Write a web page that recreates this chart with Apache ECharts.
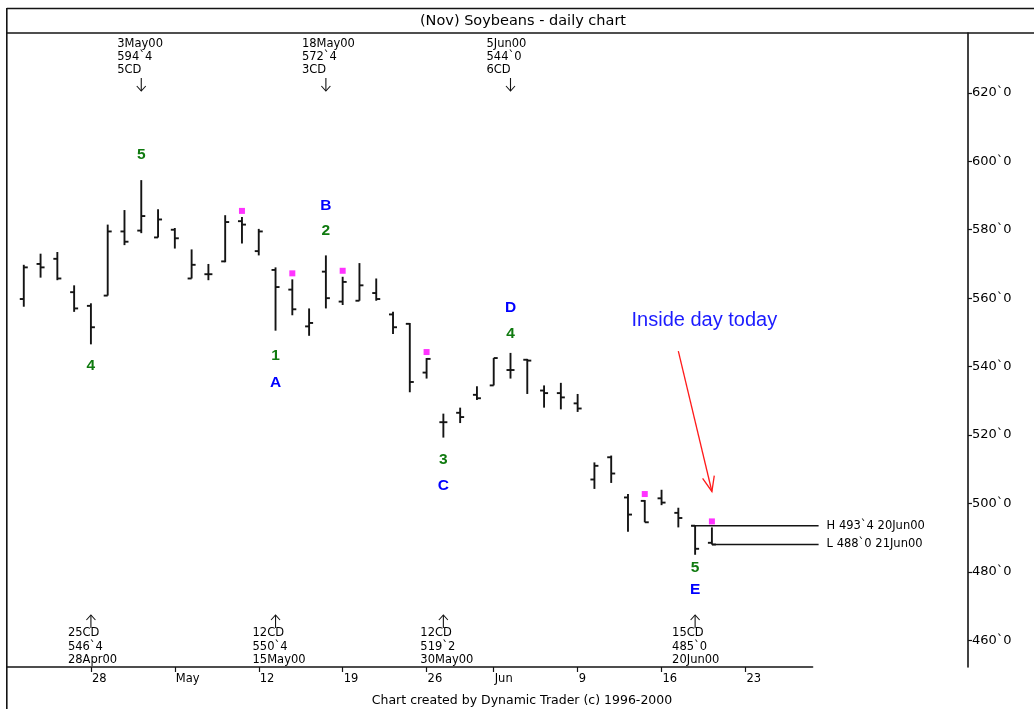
<!DOCTYPE html>
<html>
<head>
<meta charset="utf-8">
<script src="https://cdn.jsdelivr.net/npm/echarts@6/dist/echarts.min.js"></script>
<style>html,body{margin:0;padding:0;background:#fff}#chart{width:1034px;height:709px}</style>
</head>
<body>
<div id="chart"></div>
<script>
// ---------------- DATA ----------------
const chartTitle = '(Nov) Soybeans - daily chart';
const footerText = 'Chart created by Dynamic Trader (c) 1996-2000';
const padDay = '21Apr';
const dates = ['24Apr','25Apr','26Apr','27Apr','28Apr','1May','2May','3May','4May','5May',
  '8May','9May','10May','11May','12May','15May','16May','17May','18May','19May',
  '22May','23May','24May','25May','26May','30May','31May','1Jun','2Jun',
  '5Jun','6Jun','7Jun','8Jun','9Jun','12Jun','13Jun','14Jun','15Jun','16Jun',
  '19Jun','20Jun','21Jun'];
const futureDays = ['22Jun','23Jun','26Jun','27Jun','28Jun','29Jun'];
const opens  = [559.75,570,571.5,561.75,557.75,560.75,579.5,579.75,577.75,580,
  565.75,567,570.75,582.5,573.75,568.25,562.5,551.75,567.75,559,
  559.25,561.5,555.25,552.5,538.25,523.75,526.5,531.75,534.5,
  539,542,533,532.25,529.25,507,513.5,501.75,500.75,501.5,
  497.25,493.5,488.5];
const highs  = [569.75,573,573.5,563.75,558.5,581.5,585.75,594.5,586,580.5,
  574.25,570,584.25,583.75,580.25,569,565.5,557,572.5,566.25,
  570.25,565.75,556,552.75,542.5,526.25,528,534.25,542.5,
  544,542.25,534.5,535.25,532,512,514,502.75,501,504,
  498.75,493.5,493];
const lows   = [557.5,566,565.25,556,546.5,560.75,575.5,579,577.75,574.5,
  565.75,565.25,570.5,576,572.5,550.5,555,549,557,558,
  559.25,559.25,549.5,532.5,536.5,519.25,523.5,530.25,534.5,
  536.5,532,528,527.5,526.75,504.25,506,491.75,494.5,499.5,
  493,485,488];
const closes = [569,569,565.75,557,551.5,579.5,576.5,584,583,577.5,
  569.75,567,582.25,581.5,579.5,563.25,556.75,552.75,560,564.75,
  563.75,559.75,551.5,535.5,542.25,523.75,525.25,530.75,542.5,
  539,541.75,532.25,531,527.75,511,508.75,496.75,494.5,500.25,
  495.75,486.75,488];

const xTickDates  = ['28Apr','5May','12May','19May','26May','2Jun','9Jun','16Jun','23Jun'];
const xTickLabels = ['28','May','12','19','26','Jun','9','16','23'];
const yTickValues = [460,480,500,520,540,560,580,600,620];
const yTickLabels = ['460`0','480`0','500`0','520`0','540`0','560`0','580`0','600`0','620`0'];

const markerDates = ['11May','16May','19May','26May','15Jun','21Jun'];

const waveDates = ['28Apr','3May','15May','15May','18May','18May','30May','30May','5Jun','5Jun','20Jun','20Jun'];
const waveTexts = ['4','5','1','A','2','B','3','C','4','D','5','E'];
const waveSides = ['below','above','below','below','above','above','below','below','above','above','below','below'];

const topNoteDates  = ['3May','18May','5Jun'];
const topNoteDays   = ['3May00','18May00','5Jun00'];
const topNotePrices = ['594`4','572`4','544`0'];
const topNoteCounts = ['5CD','3CD','6CD'];

const bottomNoteDates  = ['28Apr','15May','30May','20Jun'];
const bottomNoteCounts = ['25CD','12CD','12CD','15CD'];
const bottomNotePrices = ['546`4','550`4','519`2','485`0'];
const bottomNoteDays   = ['28Apr00','15May00','30May00','20Jun00'];

const hlDates  = ['20Jun','21Jun'];
const hlPrices = [493.5, 488];
const hlTexts  = ['H 493`4 20Jun00','L 488`0 21Jun00'];

const calloutText = 'Inside day today';
const calloutFromDate = '19Jun', calloutFromPrice = 544.5;
const calloutToDate = '21Jun', calloutToPrice = 503.5;

// ---------------- STYLE ----------------
const INK = '#141414';
const GREEN = '#0f7a0f';
const BLUE = '#0000ff';
const MONO = '"DejaVu Sans", sans-serif';
const waveOffsets = [21,25,25,52,25,50,22,48,19,45,13,35];
const hlStartInset = [4, 0];
const Y_MIN = 452.2, Y_MAX = 637.5;

const allDays = [padDay, ...dates, ...futureDays];
const idxOf = d => allDays.indexOf(d);
const ohlcData = dates.map((d, i) => [idxOf(d), opens[i], highs[i], lows[i], closes[i]]);
const markerData = markerDates.map(d => [idxOf(d), highs[dates.indexOf(d)]]);
const waveData = waveDates.map((d, i) => {
  const k = dates.indexOf(d);
  return [idxOf(d), waveSides[i] === 'above' ? highs[k] : lows[k]];
});

function renderOHLC(params, api) {
  const x = api.value(0);
  const o = api.coord([x, api.value(1)]);
  const h = api.coord([x, api.value(2)]);
  const l = api.coord([x, api.value(3)]);
  const c = api.coord([x, api.value(4)]);
  const w = 4;
  const st = { stroke: INK, lineWidth: 1.9 };
  return { type: 'group', children: [
    { type: 'line', shape: { x1: h[0], y1: h[1], x2: l[0], y2: l[1] }, style: st },
    { type: 'line', shape: { x1: o[0] - w, y1: o[1], x2: o[0], y2: o[1] }, style: st },
    { type: 'line', shape: { x1: c[0], y1: c[1], x2: c[0] + w, y2: c[1] }, style: st }
  ]};
}

function renderWave(params, api) {
  const i = params.dataIndex;
  const p = api.coord([api.value(0), api.value(1)]);
  const txt = waveTexts[i];
  const isDigit = /[0-9]/.test(txt);
  const dy = waveSides[i] === 'above' ? -waveOffsets[i] : waveOffsets[i];
  return { type: 'text', x: p[0], y: p[1] + dy, style: {
    text: txt, fill: isDigit ? GREEN : BLUE, fontSize: 15.5, fontWeight: 'bold',
    fontFamily: '"Liberation Sans", Arial, sans-serif', align: 'center', verticalAlign: 'middle' } };
}

function noteText(x, y, t) {
  return { type: 'text', x: x, y: y, style: { text: t, fill: '#000', fontSize: 11.5,
    fontFamily: MONO, align: 'left', verticalAlign: 'middle' } };
}

function renderTopNote(params, api) {
  const i = params.dataIndex;
  const x = api.coord([api.value(0), Y_MIN])[0];
  const top = params.coordSys.y;
  const st = { stroke: INK, lineWidth: 1.1, fill: null };
  return { type: 'group', children: [
    noteText(x - 24, top + 11.5, topNoteDays[i]),
    noteText(x - 24, top + 24.5, topNotePrices[i]),
    noteText(x - 24, top + 37.5, topNoteCounts[i]),
    { type: 'line', shape: { x1: x, y1: top + 45, x2: x, y2: top + 58 }, style: st },
    { type: 'polyline', shape: { points: [[x - 4.5, top + 53], [x, top + 58], [x + 4.5, top + 53]] }, style: st }
  ]};
}

function renderBottomNote(params, api) {
  const i = params.dataIndex;
  const x = api.coord([api.value(0), Y_MIN])[0];
  const bot = params.coordSys.y + params.coordSys.height;
  const st = { stroke: INK, lineWidth: 1.1, fill: null };
  return { type: 'group', children: [
    { type: 'line', shape: { x1: x, y1: bot - 52, x2: x, y2: bot - 39 }, style: st },
    { type: 'polyline', shape: { points: [[x - 4.5, bot - 47], [x, bot - 52], [x + 4.5, bot - 47]] }, style: st },
    noteText(x - 23, bot - 34, bottomNoteCounts[i]),
    noteText(x - 23, bot - 20, bottomNotePrices[i]),
    noteText(x - 23, bot - 7, bottomNoteDays[i])
  ]};
}

function renderHL(params, api) {
  const i = params.dataIndex;
  const p = api.coord([api.value(0), api.value(1)]);
  const endX = params.coordSys.x + params.coordSys.width + 6;
  return { type: 'group', children: [
    { type: 'line', shape: { x1: p[0] - hlStartInset[i], y1: p[1], x2: endX, y2: p[1] },
      style: { stroke: INK, lineWidth: 1.6 } },
    { type: 'text', x: endX + 8, y: p[1], style: { text: hlTexts[i], fill: '#000', fontSize: 11.5,
      fontFamily: MONO, align: 'left', verticalAlign: 'middle' } }
  ]};
}

function renderCallout(params, api) {
  const s = api.coord([api.value(0), api.value(1)]);
  const t = api.coord([api.value(2), api.value(3)]);
  const dx = s[0] - t[0], dy = s[1] - t[1];
  const len = Math.sqrt(dx * dx + dy * dy);
  const ux = dx / len, uy = dy / len;
  const ang = 22 * Math.PI / 180, L = 16;
  const rot = a => [t[0] + L * (ux * Math.cos(a) - uy * Math.sin(a)), t[1] + L * (ux * Math.sin(a) + uy * Math.cos(a))];
  const st = { stroke: '#ff1a1a', lineWidth: 1.3, fill: null };
  return { type: 'group', children: [
    { type: 'line', shape: { x1: s[0], y1: s[1], x2: t[0], y2: t[1] }, style: st },
    { type: 'polyline', shape: { points: [rot(ang), t, rot(-ang)] }, style: st },
    { type: 'text', x: s[0] + 26, y: s[1] - 31, style: { text: calloutText, fill: '#1c1cff',
      fontSize: 20, fontFamily: '"Liberation Sans", Arial, sans-serif', align: 'center', verticalAlign: 'middle' } }
  ]};
}

const chart = echarts.init(document.getElementById('chart'), null, { renderer: 'canvas' });
const frame = { stroke: INK, lineWidth: 1.6 };
chart.setOption({
  animation: false,
  backgroundColor: '#fff',
  grid: { left: 7, right: 221.4, top: 33, bottom: 42, containLabel: false, outerBoundsMode: 'none' },
  xAxis: {
    type: 'category', data: allDays, boundaryGap: false,
    axisLine: { lineStyle: { color: INK, width: 1.6 } },
    axisTick: { length: 5, interval: (i, v) => xTickDates.includes(v), lineStyle: { color: INK, width: 1.2 } },
    axisLabel: { interval: (i, v) => xTickDates.includes(v),
      formatter: v => xTickLabels[xTickDates.indexOf(v)] || '',
      align: 'left', margin: 6, padding: [0, 0, 0, 1], color: '#000', fontSize: 11.5, fontFamily: MONO },
    splitLine: { show: false }
  },
  yAxis: {
    type: 'value', position: 'right', offset: 155.4, min: Y_MIN, max: Y_MAX,
    axisLine: { show: true, lineStyle: { color: INK, width: 1.6 } },
    axisTick: { show: true, length: 4, customValues: yTickValues, lineStyle: { color: INK, width: 1.2 } },
    axisLabel: { customValues: yTickValues, formatter: v => yTickLabels[yTickValues.indexOf(v)] || '',
      margin: 4, color: '#000', fontSize: 13, fontFamily: MONO },
    splitLine: { show: false }
  },
  graphic: [
    { type: 'line', shape: { x1: 6.8, y1: 8.5, x2: 1034, y2: 8.5 }, style: frame },
    { type: 'line', shape: { x1: 6.8, y1: 33, x2: 1034, y2: 33 }, style: frame },
    { type: 'line', shape: { x1: 6.8, y1: 8, x2: 6.8, y2: 709 }, style: frame },
    { type: 'text', x: 523, y: 21, style: { text: chartTitle, fill: '#000', fontSize: 14.5, fontFamily: MONO, align: 'center', verticalAlign: 'middle' } },
    { type: 'text', x: 522, y: 701, style: { text: footerText, fill: '#000', fontSize: 12.5, fontFamily: MONO, align: 'center', verticalAlign: 'middle' } }
  ],
  series: [
    { type: 'custom', name: 'ohlc', renderItem: renderOHLC, data: ohlcData, encode: { x: 0, y: [1, 2, 3, 4] }, silent: true },
    { type: 'scatter', name: 'markers', data: markerData, symbol: 'rect', symbolSize: [6, 6], symbolOffset: [0, -6],
      itemStyle: { color: '#ff00ff' }, silent: true },
    { type: 'custom', name: 'waves', renderItem: renderWave, data: waveData, encode: { x: 0, y: 1 }, silent: true },
    { type: 'custom', name: 'topNotes', renderItem: renderTopNote, data: topNoteDates.map(d => [idxOf(d), Y_MIN]), encode: { x: 0, y: 1 }, silent: true },
    { type: 'custom', name: 'bottomNotes', renderItem: renderBottomNote, data: bottomNoteDates.map(d => [idxOf(d), Y_MIN]), encode: { x: 0, y: 1 }, silent: true },
    { type: 'custom', name: 'hl', renderItem: renderHL, data: hlDates.map((d, i) => [idxOf(d), hlPrices[i]]), encode: { x: 0, y: 1 }, silent: true },
    { type: 'custom', name: 'callout', renderItem: renderCallout,
      data: [[idxOf(calloutFromDate), calloutFromPrice, idxOf(calloutToDate), calloutToPrice]], encode: { x: [0, 2], y: [1, 3] }, silent: true }
  ]
});
</script>
</body>
</html>
